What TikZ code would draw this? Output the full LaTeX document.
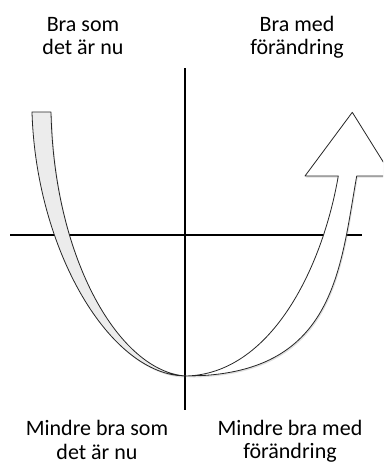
\documentclass[tikz,border=0pt]{standalone}
\usepackage{fontspec}
\setmainfont{Carlito}
\usetikzlibrary{shadows}

\begin{document}
\begin{tikzpicture}[x=0.75pt, y=-0.75pt, every node/.style={align=center, inner sep=0pt, font=\fontsize{16.5}{17.5}\selectfont}, axis/.style={line width=2pt}, band/.style={draw=black!85, line width=0.6pt, line join=round, drop shadow={shadow xshift=0.8pt, shadow yshift=-1.2pt, opacity=0.25}}]
          \clip (0, 0) rectangle (383, 464);

          \coordinate (top) at (185, 68);
          \coordinate (bottom) at (185, 410);
          \coordinate (left) at (10, 235);
          \coordinate (right) at (362, 235);
          \coordinate (tip) at (186, 376);

          \draw[axis] (top) -- (bottom);
          \draw[axis] (left) -- (right);

          \filldraw[band, fill=gray!15] (32, 112) .. controls (36, 250) and (110, 376) .. (tip) .. controls (120, 372) and (54, 260) .. (51, 112) -- cycle;

          \filldraw[band, fill=white] (tip) .. controls (335, 376) and (340, 270) .. (356.7, 176) -- (392, 176) -- (352.3, 112.3) -- (305, 176) -- (338.3, 176) .. controls (322, 270) and (270, 374) .. (tip) -- cycle;

          \node (nowgood) at (83, 36) {Bra som\\det är nu};
          \node (changegood) at (297, 37.5) {Bra med\\förändring};
          \node (nowless) at (97, 440) {Mindre bra som\\det är nu};
          \node (changeless) at (290, 441) {Mindre bra med\\förändring};
        \end{tikzpicture}
\end{document}
